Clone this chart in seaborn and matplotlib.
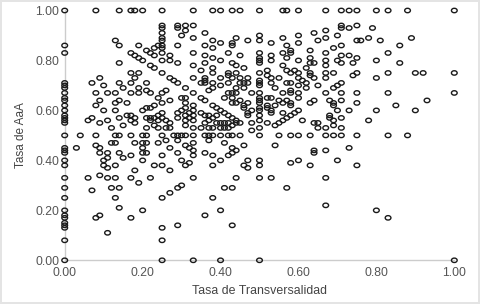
import pandas as pd
import matplotlib
matplotlib.use('Agg')
import matplotlib.pyplot as plt
from matplotlib.path import Path
from matplotlib.transforms import Affine2D
import seaborn as sns

# Columna x=0
col_cero_y = [1.0, .86, .83, .71, .70, .69, .67, .65, .64, .62, .60, .58, .57, .56, .55, .50, .45, .44, .43,
              .40, .38, .33, .29, .25, .20, .18, .17, .15, .14, .13, .08, 0.0]
# Filas con muchos puntos
fila_100_x = [.08, .14, .17, .18, .20, .25, .33, .38, .40, .43, .45, .50, .56, .57, .60, .67, .71, .73, .75,
              .80, .83, .88, 1.0]
fila_050_x = [.04, .08, .13, .14, .17, .20, .21, .25, .28, .29, .30, .31, .33, .36, .37, .38, .40, .42, .43,
              .45, .50, .55, .58, .60, .63, .67, .69, .71, .75, .83, .88]
fila_033_x = [.06, .11, .13, .17, .22, .33, .44, .50, .53, .67]
fila_000_x = [.25, .33, .40, .50, 1.0]
col_025_y = [.94, .93, .91, .89, .88, .86, .85, .83, .80, .75, .67, .63, .59, .57, .42, .38, .25, .13, .08]

# Resto de los puntos (transversalidad, AaA)
resto = [
    (.13, .88), (.14, .86), (.19, .86), (.17, .83), (.18, .82), (.19, .81), (.20, .80), (.14, .79), (.21, .84),
    (.22, .83), (.23, .85), (.24, .86), (.23, .82), (.22, .78), (.23, .77), (.27, .82), (.27, .80), (.29, .86),
    (.29, .79), (.29, .94), (.29, .93), (.31, .94), (.31, .92), (.33, .94), (.30, .90), (.33, .89), (.36, .91),
    (.38, .88), (.40, .87), (.36, .86), (.38, .85), (.43, .87), (.43, .86), (.44, .89), (.33, .83), (.36, .82),
    (.38, .81), (.42, .83), (.40, .80), (.36, .79), (.33, .78), (.38, .77), (.38, .75), (.35, .76), (.43, .79),
    (.44, .78), (.45, .82), (.17, .75), (.19, .75), (.18, .73), (.17, .71), (.14, .71), (.15, .69), (.21, .71),
    (.09, .73), (.07, .71), (.10, .70), (.08, .67), (.11, .67), (.13, .67), (.17, .67), (.19, .69), (.19, .67),
    (.21, .68), (.22, .67), (.27, .73), (.28, .72), (.29, .71), (.31, .69), (.33, .73), (.36, .73), (.36, .72),
    (.35, .71), (.36, .71), (.38, .71), (.40, .73), (.40, .70), (.42, .75), (.42, .74), (.44, .75), (.43, .73),
    (.37, .68), (.38, .69), (.42, .71), (.33, .67), (.26, .68), (.24, .65), (.27, .64), (.30, .65), (.31, .65),
    (.31, .63), (.35, .65), (.36, .64), (.38, .62), (.39, .61), (.40, .60), (.41, .59), (.42, .58), (.43, .57),
    (.44, .56), (.42, .67), (.43, .67), (.44, .67), (.41, .65), (.43, .65), (.43, .63), (.44, .63), (.44, .69),
    (.09, .64), (.13, .63), (.14, .64), (.16, .63), (.08, .62), (.10, .60), (.13, .60), (.20, .60), (.21, .61),
    (.23, .62), (.22, .61), (.24, .58), (.22, .57), (.23, .57), (.24, .56), (.21, .57), (.22, .56), (.26, .56),
    (.27, .55), (.27, .53), (.26, .53), (.24, .53), (.23, .54), (.21, .53), (.18, .55), (.17, .56), (.16, .58),
    (.17, .58), (.18, .57), (.14, .57), (.15, .54), (.11, .56), (.12, .53), (.09, .55), (.07, .57), (.06, .56),
    (.29, .59), (.29, .57), (.30, .60), (.31, .61), (.33, .62), (.33, .60), (.33, .58), (.33, .56), (.33, .53),
    (.31, .58), (.31, .56), (.31, .54), (.32, .59), (.32, .57), (.35, .59), (.35, .53), (.36, .58), (.36, .55),
    (.37, .58), (.37, .56), (.37, .53), (.39, .58), (.39, .55), (.38, .57), (.38, .53), (.40, .55), (.40, .53),
    (.41, .55), (.41, .53), (.42, .55), (.42, .53), (.43, .54), (.44, .55),
    (.50, .90), (.50, .88), (.47, .88), (.53, .87), (.56, .89), (.60, .90), (.60, .87), (.64, .91), (.67, .92),
    (.65, .88), (.67, .89), (.70, .90), (.71, .94), (.71, .93), (.73, .93), (.75, .94), (.79, .93), (.75, .88),
    (.76, .88), (.78, .89), (.81, .88), (.89, .89), (.86, .86), (.83, .83), (.57, .86), (.58, .84), (.58, .83),
    (.56, .83), (.57, .81), (.60, .80), (.63, .84), (.63, .81), (.69, .85), (.71, .86), (.67, .83), (.71, .82),
    (.73, .82), (.75, .81), (.70, .80), (.71, .79), (.74, .79), (.80, .80), (.86, .79), (.67, .80), (.67, .78),
    (.64, .79), (.63, .79), (.62, .77), (.50, .83), (.50, .81), (.50, .80), (.50, .79), (.53, .82), (.53, .80),
    (.56, .78), (.57, .76), (.58, .75), (.59, .76), (.60, .75), (.46, .77), (.52, .76), (.52, .74), (.50, .75),
    (.53, .73), (.55, .73), (.60, .73), (.61, .72), (.63, .75), (.63, .74), (.64, .73), (.67, .75), (.67, .73),
    (.69, .75), (.75, .75), (.74, .74), (.80, .73), (.83, .75), (.90, .75), (.92, .75), (1.0, .75),
    (.47, .73), (.47, .71), (.45, .73), (.45, .71), (.46, .71), (.46, .69), (.50, .72), (.50, .71), (.50, .70),
    (.53, .71), (.54, .69), (.57, .71), (.58, .71), (.60, .70), (.62, .71), (.62, .69), (.65, .70), (.71, .71),
    (.70, .70), (.69, .69), (.48, .67), (.50, .67), (.56, .67), (.58, .68), (.58, .67), (.60, .67), (.60, .65),
    (.67, .67), (.71, .67), (.75, .67), (.83, .67), (1.0, .67),
    (.45, .64), (.47, .63), (.46, .62), (.46, .61), (.47, .59), (.47, .58), (.48, .60), (.50, .65), (.50, .64),
    (.50, .63), (.50, .61), (.50, .60), (.50, .58), (.50, .56), (.52, .65), (.53, .65), (.52, .62), (.52, .61),
    (.53, .60), (.53, .59), (.54, .62), (.55, .64), (.56, .63), (.57, .64), (.58, .63), (.58, .62), (.56, .59),
    (.60, .60), (.59, .59), (.58, .58), (.57, .57), (.56, .56), (.55, .55), (.54, .54), (.52, .55), (.61, .56),
    (.63, .63), (.64, .64), (.68, .64), (.69, .63), (.69, .62), (.71, .64), (.70, .60), (.75, .63), (.73, .60),
    (.80, .60), (.85, .62), (.90, .60), (.93, .64), (.68, .58), (.68, .57), (.69, .56), (.69, .54), (.71, .57),
    (.71, .53), (.64, .55), (.65, .55), (.65, .53), (.67, .53), (.78, .56), (.48, .55), (.48, .52), (.50, .53),
    (.45, .55), (.46, .46), (.54, .46), (.73, .45), (.67, .44), (.64, .44),
    (.03, .45), (.08, .46), (.09, .45), (.12, .47), (.13, .47), (.18, .47), (.20, .47), (.20, .45), (.21, .47),
    (.24, .47), (.26, .48), (.27, .45), (.29, .48), (.31, .46), (.32, .45), (.33, .47), (.33, .44), (.37, .48),
    (.41, .47), (.43, .45), (.44, .44), (.09, .43), (.11, .43), (.11, .41), (.10, .40), (.10, .38), (.11, .37),
    (.13, .38), (.14, .43), (.15, .41), (.17, .42), (.20, .43), (.21, .43), (.20, .40), (.18, .36), (.23, .38),
    (.27, .36), (.29, .43), (.30, .40), (.31, .38), (.32, .39), (.33, .42), (.36, .43), (.38, .42), (.38, .38),
    (.40, .40), (.42, .42), (.43, .43), (.09, .34), (.07, .28), (.12, .29), (.14, .29), (.19, .31), (.30, .30),
    (.29, .29), (.27, .27), (.13, .25), (.14, .21), (.20, .20), (.38, .25), (.41, .29), (.43, .29), (.09, .18),
    (.08, .17), (.17, .17), (.36, .18), (.40, .20), (.43, .14), (.29, .14), (.11, .11), (.47, .40), (.47, .37),
    (.46, .38), (.50, .40), (.50, .38), (.58, .39), (.60, .40), (.63, .38), (.70, .40), (.75, .38), (.57, .29),
    (.67, .22), (.80, .20), (.83, .17), (.64, .43),
]

ticks = [0.0, 0.2, 0.4, 0.6, 0.8, 1.0]

df = pd.concat([
    pd.DataFrame({'x': 0.0, 'y': col_cero_y}),
    pd.DataFrame({'x': fila_100_x, 'y': 1.0}),
    pd.DataFrame({'x': fila_050_x, 'y': .50}),
    pd.DataFrame({'x': fila_033_x, 'y': .33}),
    pd.DataFrame({'x': fila_000_x, 'y': 0.0}),
    pd.DataFrame({'x': .25, 'y': col_025_y}),
    pd.DataFrame(resto, columns=['x', 'y']),
])

sns.set_style('white')
plt.rcParams['font.family'] = ['Liberation Sans', 'DejaVu Sans']

fig = plt.figure(figsize=(4.8, 3.04), dpi=100, facecolor='white')
ax = fig.add_axes([64.7 / 480, 43.7 / 304, 389.6 / 480, 249.8 / 304])

# circulos un poco achatados como en el original
ovalo = Path.unit_circle().transformed(Affine2D().scale(1.3, 1.0))
sns.scatterplot(data=df, x='x', y='y', marker=ovalo, s=17, facecolor='none', edgecolor='#1a1a1a',
                linewidth=1.0, clip_on=False, ax=ax, zorder=3)

ax.set_xlim(0, 1)
ax.set_ylim(0, 1)
ax.set_xticks(ticks)
ax.set_yticks(ticks)
ax.set_xticklabels(['%.2f' % t for t in ticks])
ax.set_yticklabels(['%.2f' % t for t in ticks])
ax.tick_params(length=0, labelsize=8.8, labelcolor='#555555', pad=4)
ax.tick_params(axis='x', pad=5)
ax.set_xlabel('Tasa de Transversalidad', fontsize=8.9, color='#444444', labelpad=4)
ax.set_ylabel('Tasa de AaA', fontsize=8.5, color='#444444', labelpad=6)
sns.despine(ax=ax)
for lado in ['left', 'bottom']:
    ax.spines[lado].set_color('#cccccc')
    ax.spines[lado].set_linewidth(1.0)

fig.patch.set_edgecolor('#e4e4e4')
fig.patch.set_linewidth(1.5)
fig.savefig('out.png', dpi=100, edgecolor=fig.get_edgecolor())
